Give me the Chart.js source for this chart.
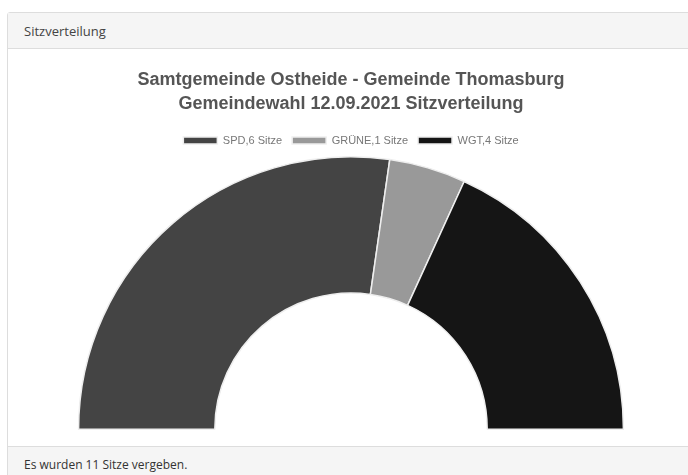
<!DOCTYPE html>
<html>
<head>
<meta charset="utf-8">
<script src="https://cdn.jsdelivr.net/npm/chart.js@4"></script>
<style>
  html, body { margin: 0; padding: 0; background: #fff; overflow: hidden; }
  body { width: 688px; height: 475px; position: relative; font-family: "Open Sans", sans-serif; }
  .panel { position: absolute; left: 7px; top: 12px; width: 700px; height: 480px;
           border: 1px solid #ddd; border-radius: 3px; background: #fff; }
  .head { height: 35px; background: #f5f5f5; border-bottom: 1px solid #ddd;
          font-size: 13px; color: #444; line-height: 36px; padding-left: 16px; }
  .body { position: absolute; left: -2px; top: 36px; width: 690px; height: 397px; }
  .foot { position: absolute; left: 0; top: 433px; width: 700px; height: 46px; background: #f5f5f5;
          border-top: 1px solid #ddd; font-size: 12px; color: #333; padding-left: 16px; line-height: 36px; }
</style>
</head>
<body>
<div class="panel">
  <div class="head">Sitzverteilung</div>
  <div class="body"><canvas id="myChart"></canvas></div>
  <div class="foot">Es wurden 11 Sitze vergeben.</div>
</div>
<script>
var parties = ['SPD', 'GRÜNE', 'WGT'];
var seats = [6, 1, 4];
var partyColors = ['#444444', '#999999', '#151515'];
var titleLines = ['Samtgemeinde Ostheide - Gemeinde Thomasburg', 'Gemeindewahl 12.09.2021 Sitzverteilung'];

var labels = parties.map(function (p, i) { return p + ',' + seats[i] + ' Sitze'; });

var ctx = document.getElementById('myChart').getContext('2d');
var myChart = new Chart(ctx, {
    type: 'doughnut',
    data: {
        labels: labels,
        datasets: [{
            data: seats,
            backgroundColor: partyColors,
            borderColor: '#eeeeee',
            borderWidth: 1.5
        }]
    },
    options: {
        responsive: true,
        maintainAspectRatio: false,
        animation: false,
        rotation: -90,
        circumference: 180,
        cutout: '50%',
        layout: { padding: { top: 10, bottom: 16 } },
        plugins: {
            title: {
                display: true,
                text: titleLines,
                color: '#555',
                font: { family: 'Liberation Sans, Arial, sans-serif', size: 18, weight: 'bold', lineHeight: 1.28 },
                padding: { top: 10, bottom: 10 }
            },
            legend: {
                labels: {
                    boxWidth: 34,
                    boxHeight: 7,
                    color: '#777',
                    font: { family: 'Liberation Sans, Arial, sans-serif', size: 11 },
                    padding: 10
                }
            },
            tooltip: { enabled: false }
        }
    }
});
</script>
</body>
</html>
